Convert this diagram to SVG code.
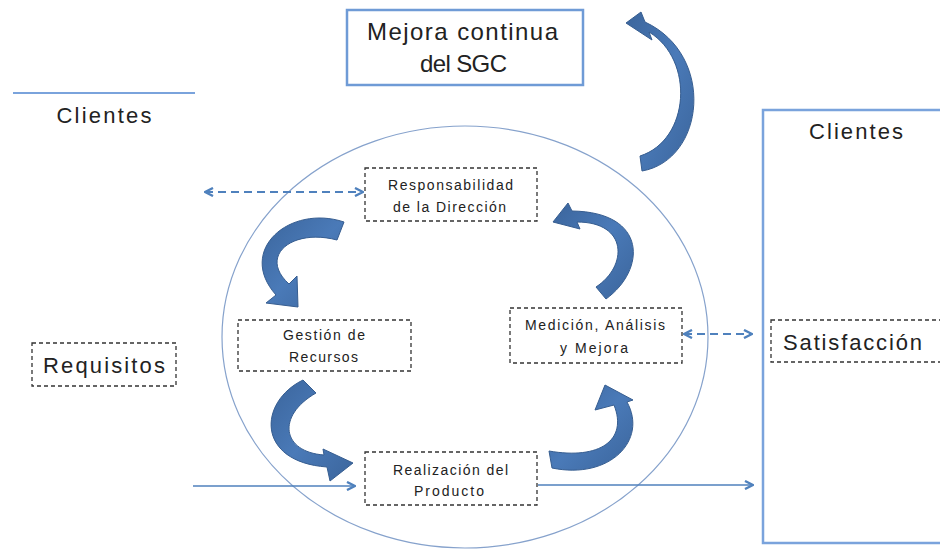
<svg xmlns="http://www.w3.org/2000/svg" width="940" height="550" viewBox="0 0 940 550">
  <style>
    .txt { font-family: "Liberation Sans", Arial, sans-serif; fill: #222; text-anchor: middle; }
    .big { font-size: 22px; }
    .small { font-size: 14px; }
    .dbox { fill: #fff; stroke: #333; stroke-width: 1.3; stroke-dasharray: 4 3; }
    .dash { fill: none; stroke: #4f81bd; stroke-width: 2; stroke-dasharray: 8 5; marker-start: url(#chev); marker-end: url(#chev); }
    .flow { fill: none; stroke: #4f81bd; stroke-width: 1.6; marker-end: url(#chev); }
    .curl { fill: url(#curlFill); stroke: #365d90; stroke-width: 1; stroke-linejoin: round; }
  </style>
  <defs>
    <marker id="chev" viewBox="0 0 10 10" refX="9" refY="5" markerWidth="10" markerHeight="10" markerUnits="userSpaceOnUse" orient="auto-start-reverse">
      <path d="M1,1 L9,5 L1,9" fill="none" stroke="#4f81bd" stroke-width="2.4"/>
    </marker>
    <linearGradient id="curlFill" x1="0" y1="0" x2="1" y2="1">
      <stop offset="0" stop-color="#3b659c"/>
      <stop offset="0.5" stop-color="#4a7ab8"/>
      <stop offset="1" stop-color="#3b659c"/>
    </linearGradient>
  </defs>

  <rect width="940" height="550" fill="#fff"/>

  <!-- process circle -->
  <g id="sgc-circle">
    <ellipse cx="465" cy="337" rx="243" ry="211" fill="none" stroke="#86a2cc" stroke-width="1.2"/>
  </g>

  <!-- customer on the left -->
  <g id="clientes-izq">
    <line x1="13" y1="93" x2="195" y2="93" stroke="#7aa3dc" stroke-width="2"/>
    <text class="txt big" x="104" y="123" textLength="95" lengthAdjust="spacing">Clientes</text>
  </g>
  <g id="requisitos">
    <rect class="dbox" x="32" y="343" width="144" height="43"/>
    <text class="txt big" x="104" y="373" textLength="122" lengthAdjust="spacing">Requisitos</text>
  </g>

  <!-- customer on the right -->
  <g id="clientes-der">
    <path d="M945,110 L763,110 L763,543 L945,543" fill="none" stroke="#7aa3dc" stroke-width="2.5"/>
    <text class="txt big" x="856" y="139" textLength="94" lengthAdjust="spacing">Clientes</text>
  </g>
  <g id="satisfaccion">
    <rect class="dbox" x="771" y="320" width="180" height="42"/>
    <text class="txt big" x="852.5" y="350" textLength="139" lengthAdjust="spacing">Satisfacción</text>
  </g>

  <!-- continual improvement -->
  <g id="mejora-continua">
    <rect x="347" y="10" width="236" height="75" fill="#fff" stroke="#6f9bd6" stroke-width="2.5"/>
    <text class="txt" style="font-size:24px" x="462.5" y="40" textLength="191" lengthAdjust="spacing">Mejora continua</text>
    <text class="txt" style="font-size:24px" x="463.5" y="72" textLength="87" lengthAdjust="spacing">del SGC</text>
  </g>

  <!-- process boxes -->
  <g id="responsabilidad">
    <rect class="dbox" x="365" y="168" width="172" height="53"/>
    <text class="txt small" x="450.5" y="190" textLength="125" lengthAdjust="spacing">Responsabilidad</text>
    <text class="txt small" x="449.5" y="212" textLength="113" lengthAdjust="spacing">de la Dirección</text>
  </g>
  <g id="gestion">
    <rect class="dbox" x="238" y="320" width="173" height="51"/>
    <text class="txt small" x="324" y="340" textLength="82" lengthAdjust="spacing">Gestión de</text>
    <text class="txt small" x="323.5" y="362" textLength="69" lengthAdjust="spacing">Recursos</text>
  </g>
  <g id="medicion">
    <rect class="dbox" x="510" y="308" width="172" height="55"/>
    <text class="txt small" x="595" y="330" textLength="140" lengthAdjust="spacing">Medición, Análisis</text>
    <text class="txt small" x="594" y="353" textLength="68" lengthAdjust="spacing">y Mejora</text>
  </g>
  <g id="realizacion">
    <rect class="dbox" x="365" y="452" width="172" height="53"/>
    <text class="txt small" x="450.5" y="475" textLength="115" lengthAdjust="spacing">Realización del</text>
    <text class="txt small" x="449" y="496" textLength="70" lengthAdjust="spacing">Producto</text>
  </g>

  <!-- connectors -->
  <g id="connectors">
    <line class="dash" x1="205" y1="192" x2="363" y2="192"/>
    <line class="dash" x1="684" y1="334" x2="752" y2="334"/>
    <line class="flow" x1="193" y1="486" x2="355" y2="486"/>
    <line class="flow" x1="538" y1="485" x2="753" y2="485"/>

    <!-- curved block arrows of the cycle -->
    <path class="curl" d="M642,171 C705,160 716,55 645,22 L641,12 L626,23 L652,40 L649,32 C695,60 690,140 640,156 Z"/>
    <path class="curl" d="M344,222 C290,204 236,250 276,295 L266,303 L298,307 L297,276 L289,284 C258,256 292,228 337,240 Z"/>
    <path class="curl" d="M303,380 C258,402 256,462 327,467 L330,481 L353,463 L323,449 L324,455 C282,452 276,416 316,393 Z"/>
    <path class="curl" d="M552,468 C610,480 648,440 627,402 L633,400 L605,385 L595,410 L614,405 C628,440 600,460 549,451 Z"/>
    <path class="curl" d="M606,299 C646,270 648,212 572,211 L568,203 L553,222 L580,229 L577,222 C628,222 628,266 596,287 Z"/>
  </g>
</svg>
